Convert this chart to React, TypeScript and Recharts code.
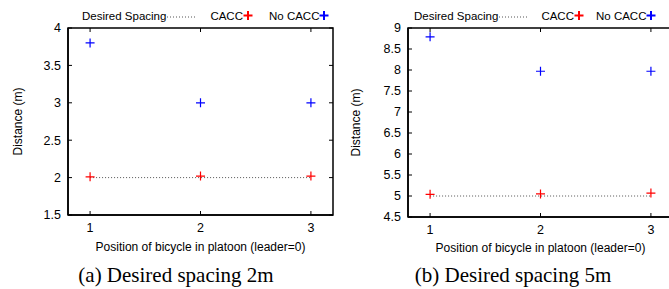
import React from 'react';
import { ScatterChart, Scatter, XAxis, YAxis, Legend, ReferenceArea, ReferenceLine } from 'recharts';

const positions = [1, 2, 3];
const xTicks = [1, 2, 3];
const xDomain: [number, number] = [0.8, 3.2];

const desiredA = [2, 2, 2];
const caccA = [2.01, 2.02, 2.02];
const noCaccA = [3.8, 3.0, 3.0];
const yTicksA = [1.5, 2, 2.5, 3, 3.5, 4];

const desiredB = [5, 5, 5];
const caccB = [5.04, 5.05, 5.07];
const noCaccB = [8.79, 7.97, 7.97];
const yTicksB = [4.5, 5, 5.5, 6, 6.5, 7, 7.5, 8, 8.5, 9];

const captions = ['(a) Desired spacing 2m', '(b) Desired spacing 5m'];
const seriesNames = ['Desired Spacing', 'CACC', 'No CACC'];
const seriesColors = ['#555555', '#ff0000', '#0000ff'];
const xLabel = 'Position of bicycle in platoon (leader=0)';
const yLabel = 'Distance (m)';

const SANS = '"Liberation Sans", Arial, Helvetica, sans-serif';
const SERIF = '"Liberation Serif", "Times New Roman", serif';

const toPoints = (ys: number[]) => positions.map((x, i) => ({ x, y: ys[i] }));

const plusShape = (color: string, half = 4.5, sw = 1.2) => (props: any) => {
  const { cx, cy } = props;
  if (cx == null || cy == null) return <g />;
  return (
    <path
      d={`M${cx - half},${cy}H${cx + half}M${cx},${cy - half}V${cy + half}`}
      stroke={color}
      strokeWidth={sw}
      fill="none"
    />
  );
};

const emptyShape = () => <g />;

// mirrored tick stubs (top edge for x ticks, right edge for y ticks)
const topStub = (props: any) => {
  const x = props.x1;
  const top = Math.min(props.y1, props.y2);
  return <line x1={x} y1={top} x2={x} y2={top + 4} stroke="#000" strokeWidth={1} />;
};
const rightStub = (props: any) => {
  const y = props.y1;
  const right = Math.max(props.x1, props.x2);
  return <line x1={right} y1={y} x2={right - 4} y2={y} stroke="#000" strokeWidth={1} />;
};

type PanelProps = {
  left: number;
  width: number;
  yAxisWidth: number;
  marginRight: number;
  marginBottom: number;
  yTicks: number[];
  desired: number[];
  cacc: number[];
  noCacc: number[];
  yLabelX: number;
  xLabelDy: number;
  legendLeft: number;
  legendGaps: number[];
};

const LegendSample = ({ idx }: { idx: number }) => {
  if (idx === 0) {
    return (
      <svg width={31} height={10} style={{ display: 'block' }}>
        <line x1={1} y1={6} x2={30} y2={6} stroke={seriesColors[0]} strokeWidth={1} strokeDasharray="1 2" />
      </svg>
    );
  }
  return (
    <svg width={10} height={12} style={{ display: 'block' }}>
      <path d="M0.5,5.5H9.5M5,1V10" stroke={seriesColors[idx]} strokeWidth={2} fill="none" />
    </svg>
  );
};

const Panel = (p: PanelProps) => {
  const axisStroke = { stroke: '#000', strokeWidth: 1.5 };
  const tickStyle = { fill: '#000', fontSize: 12.5, fontFamily: SANS };
  const yDomain: [number, number] = [p.yTicks[0], p.yTicks[p.yTicks.length - 1]];
  const legendContent = () => (
    <div
      style={{
        position: 'relative',
        display: 'flex',
        alignItems: 'center',
        fontFamily: SANS,
        fontSize: 11.5,
        color: '#000',
        paddingLeft: p.legendLeft,
        whiteSpace: 'nowrap',
        height: 14,
      }}
    >
      {seriesNames.map((name, i) => (
        <div key={name} style={{ display: 'flex', alignItems: 'center', marginLeft: i === 0 ? 0 : p.legendGaps[i - 1] }}>
          <span>{name}</span>
          <LegendSample idx={i} />
        </div>
      ))}
    </div>
  );
  return (
    <div style={{ position: 'absolute', left: p.left, top: 0 }}>
      <ScatterChart
        width={p.width}
        height={289}
        margin={{ top: 28, right: p.marginRight, bottom: p.marginBottom, left: 0 }}
        style={{ fontFamily: SANS }}
      >
        <XAxis
          dataKey="x"
          type="number"
          domain={xDomain}
          ticks={xTicks}
          allowDataOverflow
          height={40}
          axisLine={axisStroke}
          tickLine={{ stroke: '#000', strokeWidth: 1 }}
          tickSize={-4}
          tickMargin={12}
          tick={tickStyle}
          label={(lp: any) => {
            const vb = lp.viewBox;
            return (
              <text
                x={vb.x + vb.width / 2}
                y={vb.y + p.xLabelDy}
                textAnchor="middle"
                fontFamily={SANS}
                fontSize={12}
                fill="#000"
              >
                {xLabel}
              </text>
            );
          }}
        />
        <YAxis
          dataKey="y"
          type="number"
          domain={yDomain}
          ticks={p.yTicks}
          allowDataOverflow
          interval={0}
          width={p.yAxisWidth}
          axisLine={axisStroke}
          tickLine={{ stroke: '#000', strokeWidth: 1 }}
          tickSize={-4}
          tickMargin={11}
          tick={tickStyle}
          label={(lp: any) => {
            const vb = lp.viewBox;
            const cy = vb.y + vb.height / 2;
            const cx = p.yLabelX;
            return (
              <text
                x={cx}
                y={cy}
                transform={`rotate(-90 ${cx} ${cy})`}
                textAnchor="middle"
                fontFamily={SANS}
                fontSize={12}
                fill="#000"
              >
                {yLabel}
              </text>
            );
          }}
        />
        <Legend
          verticalAlign="top"
          align="left"
          wrapperStyle={{ top: 9, left: 0, width: p.width, height: 0, overflow: 'visible' }}
          content={legendContent}
        />
        <ReferenceArea
          x1={xDomain[0]}
          x2={xDomain[1]}
          y1={yDomain[0]}
          y2={yDomain[1]}
          fill="none"
          fillOpacity={0}
          stroke="#000"
          strokeWidth={1.5}
        />
        {xTicks.map((t) => (
          <ReferenceLine key={`tx${t}`} x={t} shape={topStub} />
        ))}
        {p.yTicks.map((t) => (
          <ReferenceLine key={`ty${t}`} y={t} shape={rightStub} />
        ))}
        <Scatter
          name={seriesNames[0]}
          data={toPoints(p.desired)}
          line={{ stroke: seriesColors[0], strokeWidth: 1, strokeDasharray: '1 2' }}
          lineType="joint"
          shape={emptyShape}
          isAnimationActive={false}
        />
        <Scatter name={seriesNames[1]} data={toPoints(p.cacc)} shape={plusShape(seriesColors[1])} isAnimationActive={false} />
        <Scatter name={seriesNames[2]} data={toPoints(p.noCacc)} shape={plusShape(seriesColors[2])} isAnimationActive={false} />
      </ScatterChart>
    </div>
  );
};

export default function App() {
  return (
    <div
      style={{
        position: 'absolute',
        left: 0,
        top: 0,
        width: 669,
        height: 289,
        overflow: 'hidden',
        background: '#fff',
      }}
    >
      <Panel
        left={0}
        width={340}
        yAxisWidth={68}
        marginRight={7}
        marginBottom={34}
        yTicks={yTicksA}
        desired={desiredA}
        cacc={caccA}
        noCacc={noCaccA}
        yLabelX={22}
        xLabelDy={36}
        legendLeft={82}
        legendGaps={[13, 16]}
      />
      <Panel
        left={335}
        width={338}
        yAxisWidth={73}
        marginRight={0}
        marginBottom={32}
        yTicks={yTicksB}
        desired={desiredB}
        cacc={caccB}
        noCacc={noCaccB}
        yLabelX={25}
        xLabelDy={35}
        legendLeft={79}
        legendGaps={[12, 12]}
      />
      {captions.map((c, i) => (
        <div
          key={c}
          style={{
            position: 'absolute',
            left: i === 0 ? 176 - 120 : 513 - 120,
            width: 240,
            top: 263,
            textAlign: 'center',
            fontFamily: SERIF,
            fontSize: 21,
            lineHeight: '24px',
            color: '#000',
            whiteSpace: 'nowrap',
          }}
        >
          {c}
        </div>
      ))}
    </div>
  );
}
